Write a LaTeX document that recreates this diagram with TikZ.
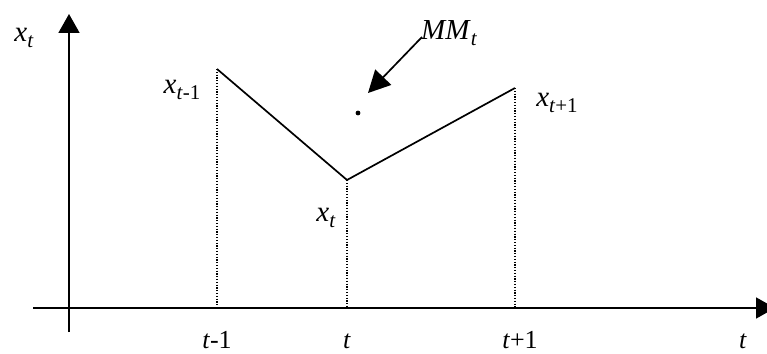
\documentclass[tikz,border=0pt]{standalone}
\usepackage{fontspec}
\setmainfont{Liberation Serif}
\usetikzlibrary{arrows.meta}
\newcommand{\lowsub}[1]{\raisebox{-0.22em}{\fontsize{21}{21}\selectfont #1}}
\tikzset{
  axis/.style={line width=1.8pt},
  curve/.style={line width=1.7pt},
  guide/.style={line width=1.2pt, dash pattern=on 1.2pt off 1.6pt},
  lab/.style={inner sep=0pt, font=\fontsize{29}{31}\selectfont},
  tlab/.style={inner sep=0pt, anchor=base, font=\fontsize{26}{28}\selectfont},
}
\begin{document}
\begin{tikzpicture}[x=1pt,y=1pt]
\useasboundingbox (0,0) rectangle (767,353);
% coordinates (y = 353 - pixel row)
\coordinate (yb) at (69,21);
\coordinate (yt) at (69,339);
\coordinate (xl) at (33,45);
\coordinate (xr) at (775,45);
\coordinate (p1) at (217,284);
\coordinate (p2) at (347,173);
\coordinate (p3) at (515,265);
\coordinate (b1) at (217,45);
\coordinate (b2) at (347,45);
\coordinate (b3) at (515,45);
\coordinate (as) at (422,316);
\coordinate (ae) at (368,260);
% axes
\draw[axis,-{Triangle[length=19pt,width=21pt]}] (yb) -- (yt);
\draw[axis,-{Triangle[length=19pt,width=21pt]}] (xl) -- (xr);
% guides
\draw[guide] (p1) -- (b1);
\draw[guide] (p2) -- (b2);
\draw[guide] (p3) -- (b3);
% polyline
\draw[curve,line join=miter] (p1) -- (p2) -- (p3);
% mean point
\fill (358,240) circle (2.4pt) node (mm) {};
% arrow
\draw[curve,-{Triangle[length=22pt,width=22pt]}] (as) -- (ae);
% labels
\node[lab] (lxt) at (24,315) {\textit{x}\lowsub{\textit{t}}};
\node[lab] (lx1) at (182,263) {\textit{x}\lowsub{\textit{t}-1}};
\node[lab] (lx3) at (557,250) {\textit{x}\lowsub{\textit{t}+1}};
\node[lab] (lx2) at (326,135) {\textit{x}\lowsub{\textit{t}}};
\node[lab,anchor=west] (lmm) at (421,320) {\textit{MM}\lowsub{\textit{t}}};
\node[tlab] (t1) at (217,5) {\textit{t}-1};
\node[tlab] (t2) at (347,5) {\textit{t}};
\node[tlab] (t3) at (520,5) {\textit{t}+1};
\node[tlab] (t4) at (743,5) {\textit{t}};
\end{tikzpicture}
\end{document}
